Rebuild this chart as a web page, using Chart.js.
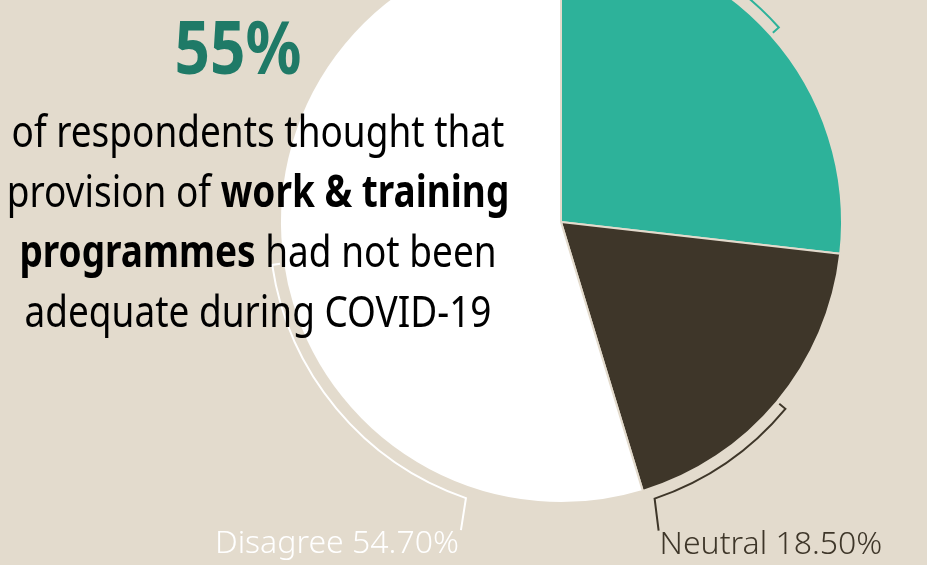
<!DOCTYPE html>
<html>
<head>
<meta charset="utf-8">
<script src="https://cdn.jsdelivr.net/npm/chart.js@4"></script>
<style>
  html, body { margin: 0; padding: 0; }
  body {
    width: 927px; height: 565px; overflow: hidden; position: relative;
    background: #e3dbcd; font-family: 'Noto Sans', sans-serif;
  }
  #chart-wrap { position: absolute; left: 0; top: -78px; width: 927px; height: 643px; }
  #headline {
    position: absolute; left: 138px; width: 200px; top: 6px; text-align: center;
    font-size: 73px; line-height: 80px; font-weight: 700; color: #1f7a67;
    transform: scaleX(0.85);
  }
  #blurb {
    position: absolute; left: -42px; width: 600px; top: 100px; text-align: center;
    font-size: 44px; line-height: 60px; color: #000; transform: scaleX(0.84);
  }
  #blurb b { font-weight: 700; }
</style>
</head>
<body>
<div id="chart-wrap"><canvas id="pie"></canvas></div>
<div id="headline">55%</div>
<div id="blurb">
  <div>of respondents thought that</div>
  <div>provision of <b>work &amp; training</b></div>
  <div><b>programmes</b> had not been</div>
  <div>adequate during COVID-19</div>
</div>
<script>
const CATEGORIES = ['Agree', 'Neutral', 'Disagree'];
const SHARES = [26.8, 18.5, 54.7];
const SHARE_LABELS = ['26.80%', '18.50%', '54.70%'];

const BG = '#e3dbcd';
const SLICE_COLORS = ['#2db29a', '#3e3629', '#ffffff'];

// bracket = arc just outside each slice, from its middle to where the leader drops
const BRACKET = {
  gap: 11,
  tick: 8,
  ends: [8, 161.3, 199],   // degrees clockwise from 12 o'clock
  lean: [0, 4, -5],
  drop: [-32, 32, 32],
};

const deg = d => (d - 90) * Math.PI / 180;

const bracketPlugin = {
  id: 'brackets',
  afterDatasetsDraw(chart) {
    const ctx = chart.ctx;
    const arcs = chart.getDatasetMeta(0).data;
    ctx.save();
    ctx.lineWidth = 2;
    ctx.lineCap = 'butt';
    ctx.lineJoin = 'miter';
    ctx.font = '300 32px "Noto Sans"';
    ctx.textBaseline = 'alphabetic';
    arcs.forEach((arc, i) => {
      const { x, y, startAngle, endAngle, outerRadius } = arc.getProps(['x', 'y', 'startAngle', 'endAngle', 'outerRadius'], true);
      const r = outerRadius + BRACKET.gap;
      const mid = (startAngle + endAngle) / 2;
      const end = deg(BRACKET.ends[i]);
      const col = SLICE_COLORS[i];
      ctx.strokeStyle = col;
      ctx.beginPath();
      ctx.moveTo(x + (r - BRACKET.tick) * Math.cos(mid), y + (r - BRACKET.tick) * Math.sin(mid));
      ctx.lineTo(x + r * Math.cos(mid), y + r * Math.sin(mid));
      ctx.arc(x, y, r, mid, end, end < mid);
      const ex = x + r * Math.cos(end), ey = y + r * Math.sin(end);
      const lx = ex + BRACKET.lean[i], ly = ey + BRACKET.drop[i];
      ctx.lineTo(lx, ly);
      ctx.stroke();

      const text = CATEGORIES[i] + ' ' + SHARE_LABELS[i];
      ctx.fillStyle = col;
      if (BRACKET.lean[i] < 0) {
        ctx.textAlign = 'right';
        ctx.fillText(text, lx - 2, ly + 23);
      } else {
        ctx.textAlign = 'left';
        ctx.fillText(text, lx + 1, BRACKET.drop[i] < 0 ? ly - 8 : ly + 23);
      }
    });
    ctx.restore();
  }
};

new Chart(document.getElementById('pie'), {
  type: 'pie',
  data: {
    labels: CATEGORIES,
    datasets: [{
      data: SHARES,
      backgroundColor: SLICE_COLORS,
      borderColor: BG,
      borderWidth: 2,
    }],
  },
  options: {
    responsive: true,
    maintainAspectRatio: false,
    animation: false,
    events: [],
    layout: { padding: { left: 279, right: 84, top: 18, bottom: 61 } },
    plugins: { legend: { display: false }, tooltip: { enabled: false } },
  },
  plugins: [bracketPlugin],
});
</script>
</body>
</html>
